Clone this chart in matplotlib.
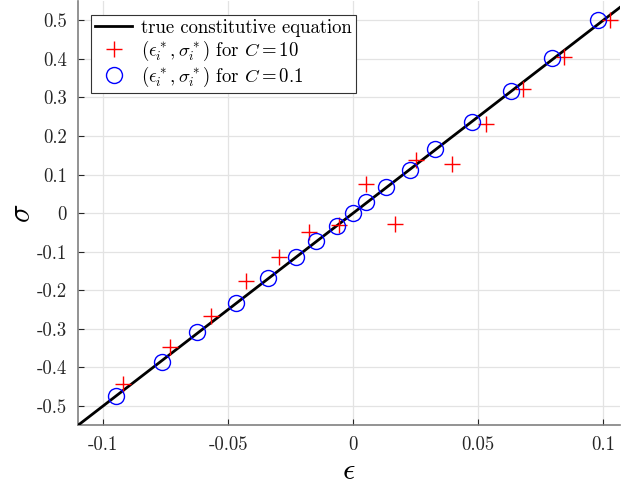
import matplotlib
matplotlib.use("Agg")
import matplotlib.pyplot as plt
import numpy as np

# ---- data ----
eps_true = [-0.11, 0.107]
E_true = 5.0

eps_c01 = [-0.0950, -0.0764, -0.0624, -0.0470, -0.0342, -0.0230, -0.0148, -0.0064, 0.0,
           0.0050, 0.0132, 0.0226, 0.0326, 0.0474, 0.0631, 0.0796, 0.0978]
sig_c01 = [-0.475, -0.385, -0.308, -0.232, -0.169, -0.114, -0.071, -0.033, 0.0,
           0.030, 0.0665, 0.111, 0.167, 0.236, 0.317, 0.403, 0.500]

eps_c10 = [-0.0920, -0.0733, -0.0569, -0.0430, -0.0296, -0.0176, -0.0055, 0.0051,
           0.0167, 0.0250, 0.0395, 0.0531, 0.0678, 0.0844, 0.1027]
sig_c10 = [-0.444, -0.346, -0.267, -0.175, -0.114, -0.049, -0.031, 0.075,
           -0.028, 0.138, 0.128, 0.232, 0.323, 0.404, 0.500]

xticks = [-0.1, -0.05, 0, 0.05, 0.1]
xticklabels = ["-0.1", "-0.05", "0", "0.05", "0.1"]
yticks = [-0.5, -0.4, -0.3, -0.2, -0.1, 0, 0.1, 0.2, 0.3, 0.4, 0.5]
yticklabels = ["-0.5", "-0.4", "-0.3", "-0.2", "-0.1", "0", "0.1", "0.2", "0.3", "0.4", "0.5"]

plt.rcParams['font.family'] = ['cmr10', 'DejaVu Serif']
plt.rcParams['mathtext.fontset'] = 'cm'
plt.rcParams['axes.unicode_minus'] = False

fig = plt.figure(figsize=(6.21, 4.91), dpi=100)
ax = fig.add_axes([78/621, 1 - 425.3/491, (620 - 78)/621, (425.3 - 1)/491])

ax.set_xlim(-0.11, 0.1067)
ax.set_ylim(-0.55, 0.55)

xt = np.array(eps_true)
ax.plot(xt, E_true * xt, color='black', lw=2.0, label='true constitutive equation', zorder=3)
ax.plot(eps_c10, sig_c10, linestyle='none', marker='+', ms=11, mew=1.0, color='red',
        label=r'$(\epsilon_i^*,\sigma_i^*)$ for $C=10$', zorder=4)
ax.plot(eps_c01, sig_c01, linestyle='none', marker='o', ms=11.5, mew=1.0, mfc='none',
        mec='blue', label=r'$(\epsilon_i^*,\sigma_i^*)$ for $C=0.1$', zorder=5)

ax.set_xticks(xticks)
ax.set_xticklabels(xticklabels)
ax.set_yticks(yticks)
ax.set_yticklabels(yticklabels)
ax.tick_params(direction='in', length=4, width=0.8, color='#262626', labelsize=13.5,
               labelcolor='#262626', pad=8)
ax.grid(True, color='#e3e3e3', lw=0.9)
ax.set_axisbelow(True)
for s in ['top', 'right']:
    ax.spines[s].set_visible(False)
for s in ['left', 'bottom']:
    ax.spines[s].set_color('#808080')
    ax.spines[s].set_linewidth(1.2)

ax.set_xlabel(r'$\epsilon$', fontsize=22, labelpad=2)
ax.set_ylabel(r'$\sigma$', fontsize=22, labelpad=0, rotation=90)

leg = ax.legend(loc='upper left', bbox_to_anchor=(0.0235, 0.968), fontsize=13.5,
                frameon=True, fancybox=False, framealpha=1, edgecolor='#333333',
                borderpad=0.22, labelspacing=0.1, handlelength=2.0, handletextpad=0.45,
                borderaxespad=0)
leg.get_frame().set_linewidth(0.8)

fig.savefig('out.png', dpi=100)
